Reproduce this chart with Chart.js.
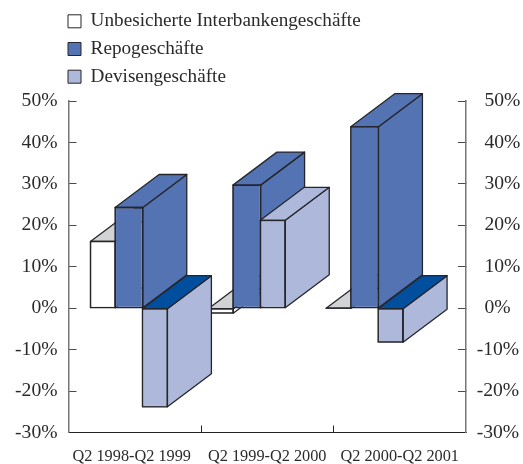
<!DOCTYPE html>
<html><head><meta charset="utf-8">
<style>html,body{margin:0;padding:0;background:#fff}canvas{display:block}</style>
<script src="https://cdn.jsdelivr.net/npm/chart.js@4"></script>
</head><body><canvas id="c" width="523" height="464"></canvas>
<script>
const categories = ['Q2 1998-Q2 1999','Q2 1999-Q2 2000','Q2 2000-Q2 2001'];
const seriesNames = ['Unbesicherte Interbankengeschäfte','Repogeschäfte','Devisengeschäfte'];
const unbesichert = [16.1,-1.2,0];
const repo = [24.3,29.7,43.8];
const devisen = [-23.8,21.2,-8.2];

const white='#ffffff', blue='#5473b3', light='#adb8da', gray='#d1d3d5', dark='#004f9f', line='#25252b', ink='#2a2a2a', axisGray='#77777b';
const DX=44, DY=33;
const frontFaces=[white,blue,light];
const topPos=[gray,blue,light];
const topNeg=[gray,blue,dark];

function poly(ctx,pts,fill){
  ctx.beginPath();
  pts.forEach((p,i)=>i?ctx.lineTo(p[0],p[1]):ctx.moveTo(p[0],p[1]));
  ctx.closePath();
  ctx.lineWidth=1.3;ctx.strokeStyle=line;ctx.lineJoin='round';
  if(fill){ctx.fillStyle=fill;ctx.fill();}
  ctx.stroke();
}
const bars3d={
  id:'bars3d',
  afterLayout(chart){
    const xb=chart.scales.xBars;
    xb.left=70;xb.right=423.5;xb.configure();
    const lg=chart.legend;
    lg.left=59.5;lg.top=3.2;lg.right=400;lg.bottom=100;
  },
  beforeDraw(chart){
    chart.scales.y2.getLabelItems().forEach(it=>{
      if(!String(it.label).startsWith('-')) it.options.translation[0]+=7.7;
    });
    chart.scales.x.getLabelItems()[0].options.translation[0]-=3;
  },
  beforeDatasetsDraw(chart){
    const ctx=chart.ctx;
    chart.data.datasets.forEach((ds,i)=>{
      const meta=chart.getDatasetMeta(i);
      meta.data.forEach((el,j)=>{
        const p=el.getProps(['x','y','base','width'],true);
        const l=p.x-p.width/2,r=p.x+p.width/2;
        const t=Math.min(p.y,p.base),b=Math.max(p.y,p.base);
        poly(ctx,[[r,t],[r+DX,t-DY],[r+DX,b-DY],[r,b]],frontFaces[i]);
        poly(ctx,[[l,t],[r,t],[r+DX,t-DY],[l+DX,t-DY]],ds.data[j]<0?topNeg[i]:topPos[i]);
      });
      meta.controller.draw();
      meta.data.forEach(el=>{
        const p=el.getProps(['x','y','base','width'],true);
        const l=p.x-p.width/2,r=p.x+p.width/2;
        poly(ctx,[[l,p.y],[r,p.y],[r,p.base],[l,p.base]],null);
      });
    });
    return false;
  }
};
const serif='"Liberation Serif"';
const common={borderColor:line,borderWidth:1,borderSkipped:false,categoryPercentage:0.662,xAxisID:'xBars',yAxisID:'y'};
const yCommon={type:'linear',min:-30,max:50,
  border:{color:axisGray,width:1.5},
  grid:{drawOnChartArea:false,drawTicks:true,tickLength:-8,tickColor:'#4a4a4e',tickWidth:1}};
new Chart(document.getElementById('c'),{
  type:'bar',
  plugins:[bars3d],
  data:{labels:categories,datasets:[
    {...common,label:seriesNames[0],data:unbesichert,backgroundColor:white,barPercentage:0.96},
    {...common,label:seriesNames[1],data:repo,backgroundColor:blue,barPercentage:1.065},
    {...common,label:seriesNames[2],data:devisen,backgroundColor:light,barPercentage:0.96}
  ]},
  options:{
    responsive:false,animation:false,devicePixelRatio:1,
    layout:{padding:{top:101,left:0,right:0,bottom:0}},
    plugins:{
      title:{display:false},tooltip:{enabled:false},
      legend:{position:'chartArea',align:'start',
        labels:{boxWidth:13,boxHeight:13,padding:8.5,color:ink,font:{family:serif,size:19.2}}}
    },
    scales:{
      x:{type:'category',position:'bottom',offset:true,
        border:{color:'#222226',width:1},
        grid:{offset:true,drawOnChartArea:false,drawTicks:true,tickLength:-7,tickWidth:1,
          tickColor:c=>(c.index===1||c.index===2)?'#222226':'transparent'},
        ticks:{autoSkip:false,maxRotation:0,padding:21.7,color:ink,font:{family:serif,size:16.3}},
        afterFit(s){s.height=31.5;}},
      xBars:{type:'category',position:'bottom',display:false,offset:true,grid:{offset:true}},
      y:{...yCommon,position:'left',
        ticks:{stepSize:10,padding:19,color:ink,font:{family:serif,size:19.6},callback:v=>v+'%'},
        afterFit(s){s.width=68.5;}},
      y2:{...yCommon,position:'right',
        ticks:{stepSize:10,padding:18.7,color:ink,font:{family:serif,size:19.6},callback:v=>v+'%'},
        afterFit(s){s.width=57;}}
    }
  }
});
</script></body></html>
